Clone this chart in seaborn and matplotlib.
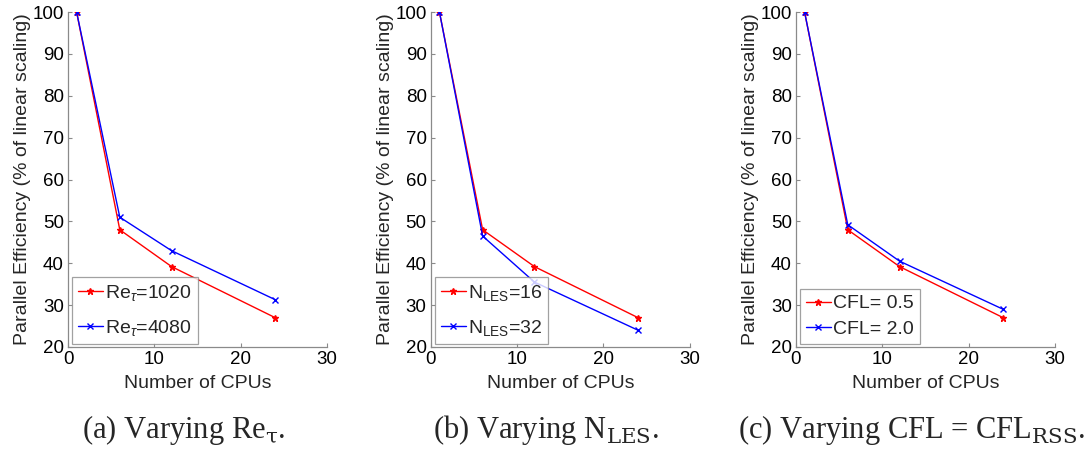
import matplotlib
matplotlib.use("Agg")
import matplotlib.pyplot as plt
import seaborn as sns

# CPU counts used in the scaling runs
cpus = [1, 6, 12, 24]

# Parallel efficiency (% of linear scaling)
eff_re1020 = [100, 48, 39.2, 27]
eff_re4080 = [100, 51, 43, 31.3]
eff_nles16 = [100, 48, 39.2, 27]
eff_nles32 = [100, 46.5, 35.5, 24]
eff_cfl05 = [100, 48, 39.2, 27]
eff_cfl20 = [100, 49.2, 40.5, 29]

labels_a = [r"Re$_\tau$=1020", r"Re$_\tau$=4080"]
labels_b = [r"N$_{\rm LES}$=16", r"N$_{\rm LES}$=32"]
labels_c = ["CFL= 0.5", "CFL= 2.0"]

captions = [r"(a) Varying Re$_{\rm \tau}$.",
            r"(b) Varying N$_{\rm LES}$.",
            r"(c) Varying CFL = CFL$_{\rm RSS}$."]

x_ticks = [0, 10, 20, 30]
y_ticks = [20, 30, 40, 50, 60, 70, 80, 90, 100]

sns.set_theme(style="white")
plt.rcParams["font.family"] = ["Liberation Sans", "DejaVu Sans"]
plt.rcParams["mathtext.fontset"] = "custom"
plt.rcParams["mathtext.rm"] = "Liberation Sans"
plt.rcParams["mathtext.it"] = "Liberation Sans:italic"

fig = plt.figure(figsize=(10.88, 4.5), dpi=100)

panels = [
    (0.0625, (eff_re1020, eff_re4080), labels_a, 0.75),
    (0.396, (eff_nles16, eff_nles32), labels_b, 0.75),
    (0.7316, (eff_cfl05, eff_cfl20), labels_c, 0.4),
]

gray = "#8a8a8a"
styles = [("#ff0000", "*"), ("#0000ff", "x")]
for i, (left, series, labs, spacing) in enumerate(panels):
    ax = fig.add_axes([left, 0.229, 0.238, 0.744])
    for vals, lab, (col, mk) in zip(series, labs, styles):
        sns.lineplot(x=cpus, y=vals, color=col, marker=mk, markersize=5,
                     markeredgewidth=1.0, markeredgecolor=col,
                     linewidth=1.0, label=lab, ax=ax)
    ax.set_xlim(0, 30)
    ax.set_ylim(20, 100)
    ax.set_xticks(x_ticks)
    ax.set_yticks(y_ticks)
    ax.tick_params(direction="in", length=3, width=0.8, color=gray,
                   labelsize=13.5, labelcolor="black", pad=3,
                   bottom=True, left=True)
    for side in ["top", "right"]:
        ax.spines[side].set_visible(False)
    for side in ["left", "bottom"]:
        ax.spines[side].set_color(gray)
        ax.spines[side].set_linewidth(0.9)
    ax.set_xlabel("Number of CPUs", fontsize=14, labelpad=5)
    ax.set_ylabel("Parallel Efficiency (% of linear scaling)", fontsize=14,
                  labelpad=1)
    leg = ax.legend(loc="lower left", bbox_to_anchor=(0.015, 0.01),
                    fontsize=14, frameon=True, fancybox=False,
                    handlelength=1.3, handletextpad=0.1, borderpad=0.3,
                    labelspacing=spacing, borderaxespad=0.0)
    leg.get_frame().set_edgecolor(gray)
    leg.get_frame().set_linewidth(0.9)
    cx = left + 0.238 / 2 - 14 / 1088
    fig.text(cx, 0.045, captions[i], ha="center", va="center", fontsize=22,
             family=["Liberation Serif", "DejaVu Serif"],
             math_fontfamily="dejavuserif")

fig.savefig("out.png", dpi=100)
